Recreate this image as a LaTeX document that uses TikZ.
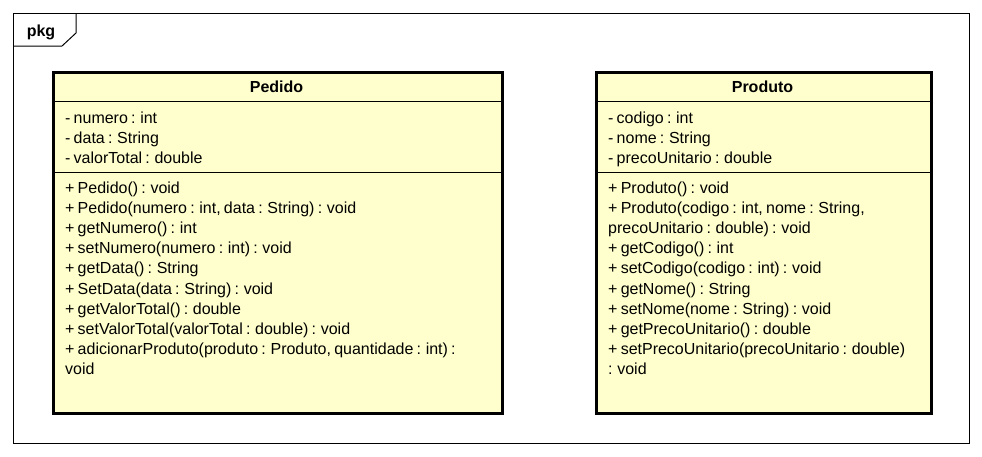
\documentclass[tikz,border=0pt]{standalone}
\usepackage{fontspec}
\setmainfont{Liberation Sans}[WordSpace=0.72]
\definecolor{classfill}{RGB}{255,255,206}
\tikzset{
  member/.style={anchor=base west, inner sep=0pt, font=\fontsize{16}{18}\selectfont},
  classname/.style={anchor=base, inner sep=0pt, font=\bfseries\fontsize{16}{18}\selectfont},
  classbox/.style={draw, line width=2.6pt, fill=classfill, anchor=north west, inner sep=0pt},
  thinline/.style={line width=1pt},
}

\begin{document}
\begin{tikzpicture}[x=1pt,y=-1pt]
    \useasboundingbox (0,0) rectangle (982,456);

    % package frame
    \draw[thinline] (13,13) rectangle (969,443);
    \draw[thinline] (13,46) -- (62,46) -- (76,33) -- (76,13);
    \node[font=\bfseries\fontsize{16}{18}\selectfont, inner sep=0pt, anchor=base] (pkg) at (41,36) {pkg};

    % Pedido
    \node[classbox, minimum width=449pt, minimum height=341pt] (pedido) at (52,71) {};
    \draw[thinline] ([yshift=-30pt]pedido.north west) -- ([yshift=-30pt]pedido.north east);
    \draw[thinline] ([yshift=-101pt]pedido.north west) -- ([yshift=-101pt]pedido.north east);
    \node[classname] (pedidoname) at (276.5,92) {Pedido};
    \foreach \m [count=\i] in {{- numero : int}, {- data : String}, {- valorTotal : double}}
        \node[member] (pedattr\i) at (65,103+20*\i) {\m};
    \foreach \m [count=\i] in {{+ Pedido() : void},
        {+ Pedido(numero : int, data : String) : void},
        {+ getNumero() : int},
        {+ setNumero(numero : int) : void},
        {+ getData() : String},
        {+ SetData(data : String) : void},
        {+ getValorTotal() : double},
        {+ setValorTotal(valorTotal : double) : void},
        {+ adicionarProduto(produto : Produto, quantidade : int) :},
        {void}}
        \node[member] (pedop\i) at (65,172.8+20.2*\i) {\m};

    % Produto
    \node[classbox, minimum width=335pt, minimum height=341pt] (produto) at (595,71) {};
    \draw[thinline] ([yshift=-30pt]produto.north west) -- ([yshift=-30pt]produto.north east);
    \draw[thinline] ([yshift=-101pt]produto.north west) -- ([yshift=-101pt]produto.north east);
    \node[classname] (produtoname) at (762.5,92) {Produto};
    \foreach \m [count=\i] in {{- codigo : int}, {- nome : String}, {- precoUnitario : double}}
        \node[member] (prodattr\i) at (608,103+20*\i) {\m};
    \foreach \m [count=\i] in {{+ Produto() : void},
        {+ Produto(codigo : int, nome : String,},
        {precoUnitario : double) : void},
        {+ getCodigo() : int},
        {+ setCodigo(codigo : int) : void},
        {+ getNome() : String},
        {+ setNome(nome : String) : void},
        {+ getPrecoUnitario() : double},
        {+ setPrecoUnitario(precoUnitario : double)},
        {: void}}
        \node[member] (prodop\i) at (608,172.8+20.2*\i) {\m};

\end{tikzpicture}
\end{document}
